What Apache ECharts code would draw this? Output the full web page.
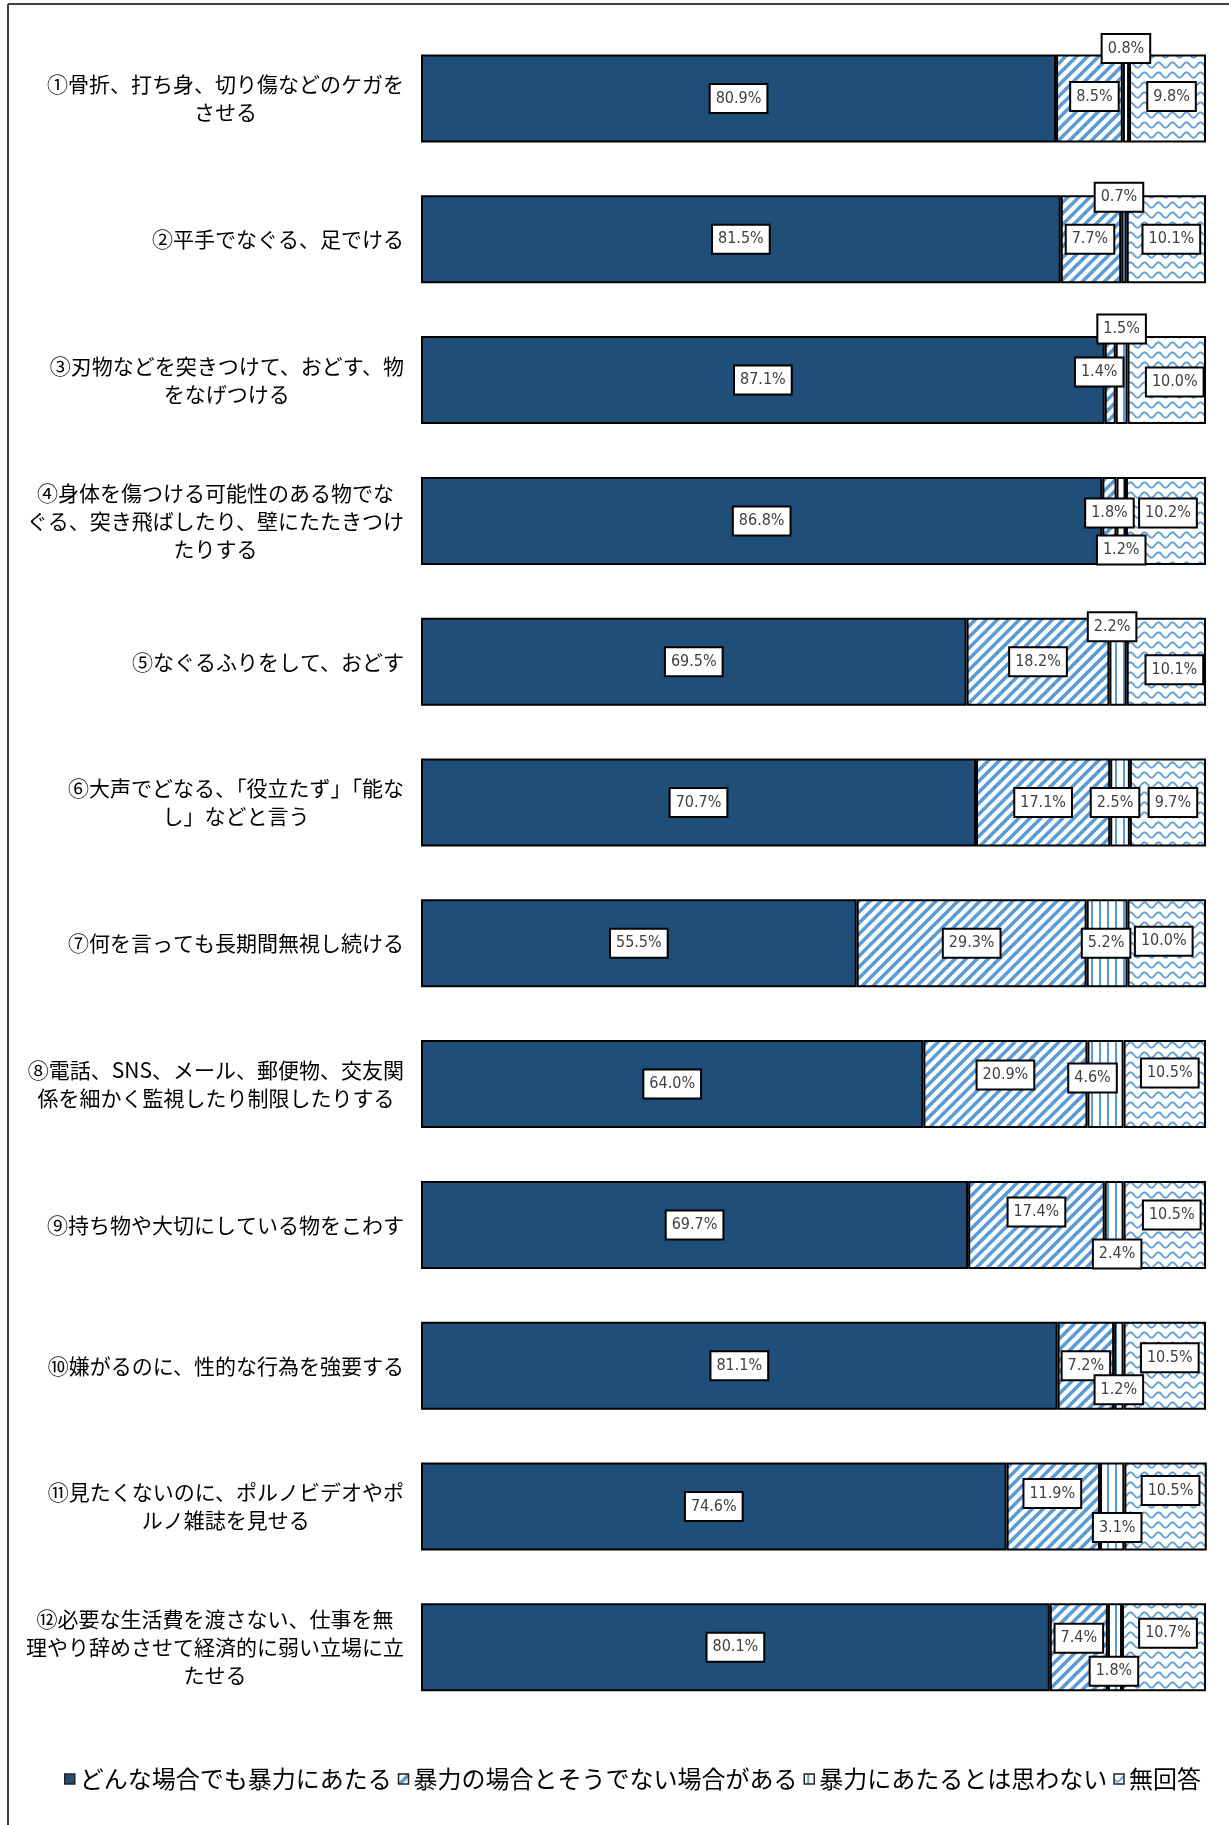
<!DOCTYPE html>
<html>
<head>
<meta charset="utf-8">
<script src="https://cdn.jsdelivr.net/npm/echarts@6/dist/echarts.min.js"></script>
<style>
  html, body { margin: 0; padding: 0; background: #fff; }
  #chart { width: 1229px; height: 1825px; }
</style>
</head>
<body>
<div id="chart"></div>
<script>
// 各項目
const categories = [
  '①骨折、打ち身、切り傷などのケガを\nさせる',
  '②平手でなぐる、足でける',
  '③刃物などを突きつけて、おどす、物\nをなげつける',
  '④身体を傷つける可能性のある物でな\nぐる、突き飛ばしたり、壁にたたきつけ\nたりする',
  '⑤なぐるふりをして、おどす',
  '⑥大声でどなる、「役立たず」「能な\nし」などと言う',
  '⑦何を言っても長期間無視し続ける',
  '⑧電話、SNS、メール、郵便物、交友関\n係を細かく監視したり制限したりする',
  '⑨持ち物や大切にしている物をこわす',
  '⑩嫌がるのに、性的な行為を強要する',
  '⑪見たくないのに、ポルノビデオやポ\nルノ雑誌を見せる',
  '⑫必要な生活費を渡さない、仕事を無\n理やり辞めさせて経済的に弱い立場に立\nたせる'
];

const seriesNames = [
  'どんな場合でも暴力にあたる',
  '暴力の場合とそうでない場合がある',
  '暴力にあたるとは思わない',
  '無回答'
];

// 回答割合（%）
const always    = [80.9, 81.5, 87.1, 86.8, 69.5, 70.7, 55.5, 64.0, 69.7, 81.1, 74.6, 80.1];
const sometimes = [8.5, 7.7, 1.4, 1.8, 18.2, 17.1, 29.3, 20.9, 17.4, 7.2, 11.9, 7.4];
const never     = [0.8, 0.7, 1.5, 1.2, 2.2, 2.5, 5.2, 4.6, 2.4, 1.2, 3.1, 1.8];
const noAnswer  = [9.8, 10.1, 10.0, 10.2, 10.1, 9.7, 10.0, 10.5, 10.5, 10.5, 10.5, 10.7];

// データラベルの位置調整（px）
const offsAlways    = categories.map(() => [0, 0]);
const offsSometimes = [[5,-2],[-1,0],[-11,-8],[0,-8],[0,0],[0,0],[0,0],[0,-9],[0,-13],[0,0],[-1,-13],[0,-9]];
const offsNever     = [[0,-50],[-5,-42],[0,-51],[0,29],[-6,-35],[-5,0],[-1,0],[-13,-6],[3,29],[0,24],[5,21],[-1,24]];
const offsNoAnswer  = [[4,-2],[5,0],[8,2],[2,-8],[8,8],[5,0],[-3,-2],[5,-11],[7,-10],[5,-8],[5,-16],[4,-14]];

const DARK = '#1F4E79';
const LIGHT = '#5B9BD5';

function makeTile(w, h, draw) {
  const c = document.createElement('canvas');
  c.width = w; c.height = h;
  const ctx = c.getContext('2d');
  ctx.fillStyle = '#fff';
  ctx.fillRect(0, 0, w, h);
  draw(ctx, w, h);
  return c;
}

// 斜線
const diagTile = makeTile(11, 11, (ctx, w, h) => {
  ctx.strokeStyle = LIGHT;
  ctx.lineWidth = 3.6;
  ctx.lineCap = 'square';
  for (let k = -1; k <= 1; k++) {
    ctx.beginPath();
    ctx.moveTo(k * w - 2, h + 2);
    ctx.lineTo(k * w + w + 2, -2);
    ctx.stroke();
  }
});

// 縦線
const vertTile = makeTile(8, 4, (ctx, w, h) => {
  ctx.fillStyle = LIGHT;
  ctx.fillRect(3, 0, 2, h);
});

// 波線
const waveTile = makeTile(14, 10, (ctx, w, h) => {
  ctx.strokeStyle = LIGHT;
  ctx.lineWidth = 1.8;
  ctx.beginPath();
  for (let x = -1; x <= w + 1; x += 0.5) {
    const y = 5 + 2.6 * Math.sin((x / w) * Math.PI * 2);
    if (x === -1) ctx.moveTo(x, y); else ctx.lineTo(x, y);
  }
  ctx.stroke();
});

const labelBox = {
  show: true,
  position: 'inside',
  formatter: p => p.value.toFixed(1) + '%',
  color: '#404040',
  fontFamily: "'Liberation Sans Narrow', 'DejaVu Sans Condensed', sans-serif",
  fontSize: 16,
  lineHeight: 17,
  backgroundColor: '#fff',
  borderColor: '#000',
  borderWidth: 2,
  padding: [5, 5]
};

function buildData(values, offsets) {
  return values.map((v, i) => ({ value: v, label: { offset: offsets[i] } }));
}

function barSeries(name, values, offsets, color) {
  return {
    name,
    type: 'bar',
    stack: 'total',
    barWidth: 88,
    data: buildData(values, offsets),
    itemStyle: { color, borderColor: '#000', borderWidth: 2 },
    label: labelBox,
    emphasis: { disabled: true }
  };
}

const chart = echarts.init(document.getElementById('chart'), null, { renderer: 'canvas' });

chart.setOption({
  backgroundColor: '#fff',
  animation: false,
  grid: { left: 421, right: 23, top: 28.1, height: 1689.6 },
  xAxis: { type: 'value', min: 0, max: 100, show: false },
  yAxis: {
    type: 'category',
    inverse: true,
    data: categories,
    axisLine: { show: false },
    axisTick: { show: false },
    axisLabel: {
      interval: 0,
      margin: 17,
      align: 'right',
      formatter: v => v.split('\n').map(l => '{c|' + l + '}').join('\n'),
      rich: {
        c: {
          align: 'center',
          fontFamily: "'Noto Sans CJK JP', sans-serif",
          fontSize: 21,
          lineHeight: 28,
          color: '#000'
        }
      }
    }
  },
  legend: {
    left: 64,
    top: 1767,
    padding: 0,
    icon: 'rect',
    itemWidth: 10,
    itemHeight: 10,
    itemGap: 6,
    itemStyle: { borderColor: '#222', borderWidth: 1.5 },
    textStyle: {
      fontFamily: "'Noto Sans CJK JP', sans-serif",
      fontSize: 24,
      color: '#000'
    },
    data: seriesNames
  },
  graphic: [
    { type: 'line', shape: { x1: 8, y1: 4, x2: 1229, y2: 4 }, style: { stroke: '#404040', lineWidth: 2 } },
    { type: 'line', shape: { x1: 8, y1: 4, x2: 8, y2: 1825 }, style: { stroke: '#404040', lineWidth: 2 } }
  ],
  series: [
    barSeries(seriesNames[0], always, offsAlways, DARK),
    barSeries(seriesNames[1], sometimes, offsSometimes, { image: diagTile, repeat: 'repeat' }),
    barSeries(seriesNames[2], never, offsNever, { image: vertTile, repeat: 'repeat' }),
    barSeries(seriesNames[3], noAnswer, offsNoAnswer, { image: waveTile, repeat: 'repeat' })
  ]
});
</script>
</body>
</html>
